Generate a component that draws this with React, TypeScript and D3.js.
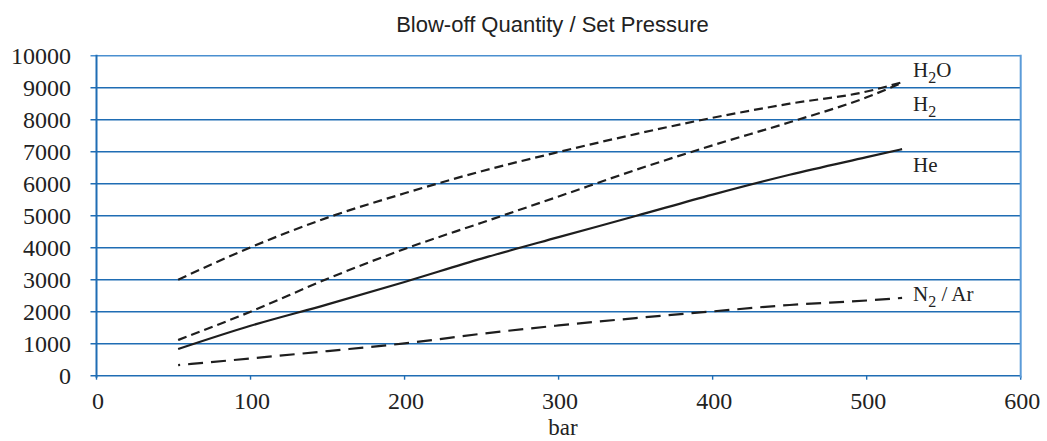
import React from "react";
import * as d3 from "d3";

const pressure = [53, 100, 150, 200, 250, 300, 350, 400, 450, 500, 523];
const h2o = [3000, 4010, 4940, 5700, 6390, 6990, 7550, 8060, 8500, 8880, 9170];
const h2 = [1115, 2000, 3030, 3960, 4780, 5600, 6430, 7200, 7920, 8700, 9150];
const he = [833, 1560, 2230, 2930, 3660, 4330, 4990, 5660, 6280, 6830, 7080];
const n2ar = [330, 540, 770, 1010, 1310, 1570, 1800, 2010, 2210, 2350, 2430];

const yTicks = [0, 1000, 2000, 3000, 4000, 5000, 6000, 7000, 8000, 9000, 10000];
const xTicks = [0, 100, 200, 300, 400, 500, 600];

const series = [
  { name: "H2O", values: h2o, dash: "9,5", label: ["H", "2", "O"], ly: 77 },
  { name: "H2", values: h2, dash: "9,5", label: ["H", "2", ""], ly: 111 },
  { name: "He", values: he, dash: "", label: ["He", "", ""], ly: 172 },
  { name: "N2 / Ar", values: n2ar, dash: "15,8", label: ["N", "2", " / Ar"], ly: 301 },
];

const W = 1047;
const H = 441;
const L = 96.5;
const R = 1020.7;
const T = 55.7;
const B = 375.7;

export default function App() {
  const x = d3.scaleLinear().domain([0, 600]).range([L, R]);
  const y = d3.scaleLinear().domain([0, 10000]).range([B, T]);
  const line = d3
    .line<[number, number]>()
    .x((d) => x(d[0]))
    .y((d) => y(d[1]))
    .curve(d3.curveMonotoneX);
  const grid = "#1f6db4";
  const serif = "'Liberation Serif', 'Times New Roman', serif";
  const sans = "'Liberation Sans', Arial, sans-serif";
  return (
    <svg
      width={W}
      height={H}
      style={{ position: "absolute", left: 0, top: 0, display: "block", background: "#fff" }}
    >
      <text x={552.5} y={32} textAnchor="middle" fontFamily={sans} fontSize={22} fill="#222">
        Blow-off Quantity / Set Pressure
      </text>
      {yTicks.map((t) => (
        <g key={"y" + t}>
          <line x1={L - 6} x2={R} y1={y(t)} y2={y(t)} stroke={t === 10000 ? "#4a8fd0" : grid} strokeWidth={1.6} />
          <text
            x={71}
            y={y(t)}
            dy="0.34em"
            textAnchor="end"
            fontFamily={serif}
            fontSize={24}
            fill="#222"
          >
            {t}
          </text>
        </g>
      ))}
      {xTicks.map((t) => (
        <g key={"x" + t}>
          <line x1={x(t)} x2={x(t)} y1={B} y2={B + 4} stroke={grid} strokeWidth={1.4} />
          <text x={x(t) + 1.5} y={409} textAnchor="middle" fontFamily={serif} fontSize={24} fill="#222">
            {t}
          </text>
        </g>
      ))}
      <line x1={L} x2={L} y1={T - 1} y2={B + 2} stroke={grid} strokeWidth={2} />
      <line x1={R} x2={R} y1={T - 1} y2={B + 2} stroke="#5b9bd8" strokeWidth={2} />
      <text x={563} y={435} textAnchor="middle" fontFamily={serif} fontSize={23} fill="#222">
        bar
      </text>
      {series.map((s) => (
        <g key={s.name}>
          <path
            d={line(pressure.map((p, i) => [p, s.values[i]] as [number, number])) || ""}
            fill="none"
            stroke="#1e1e1e"
            strokeWidth={2.2}
            strokeDasharray={s.dash || undefined}
            strokeDashoffset={s.name === "N2 / Ar" ? 13 : 0}
          />
          <text x={913} y={s.ly} fontFamily={serif} fontSize={21} fill="#222">
            {s.label[0]}
            {s.label[1] && (
              <tspan fontSize={16} dy={6}>
                {s.label[1]}
              </tspan>
            )}
            {s.label[2] && <tspan dy={s.label[1] ? -6 : 0}>{s.label[2]}</tspan>}
          </text>
        </g>
      ))}
    </svg>
  );
}
